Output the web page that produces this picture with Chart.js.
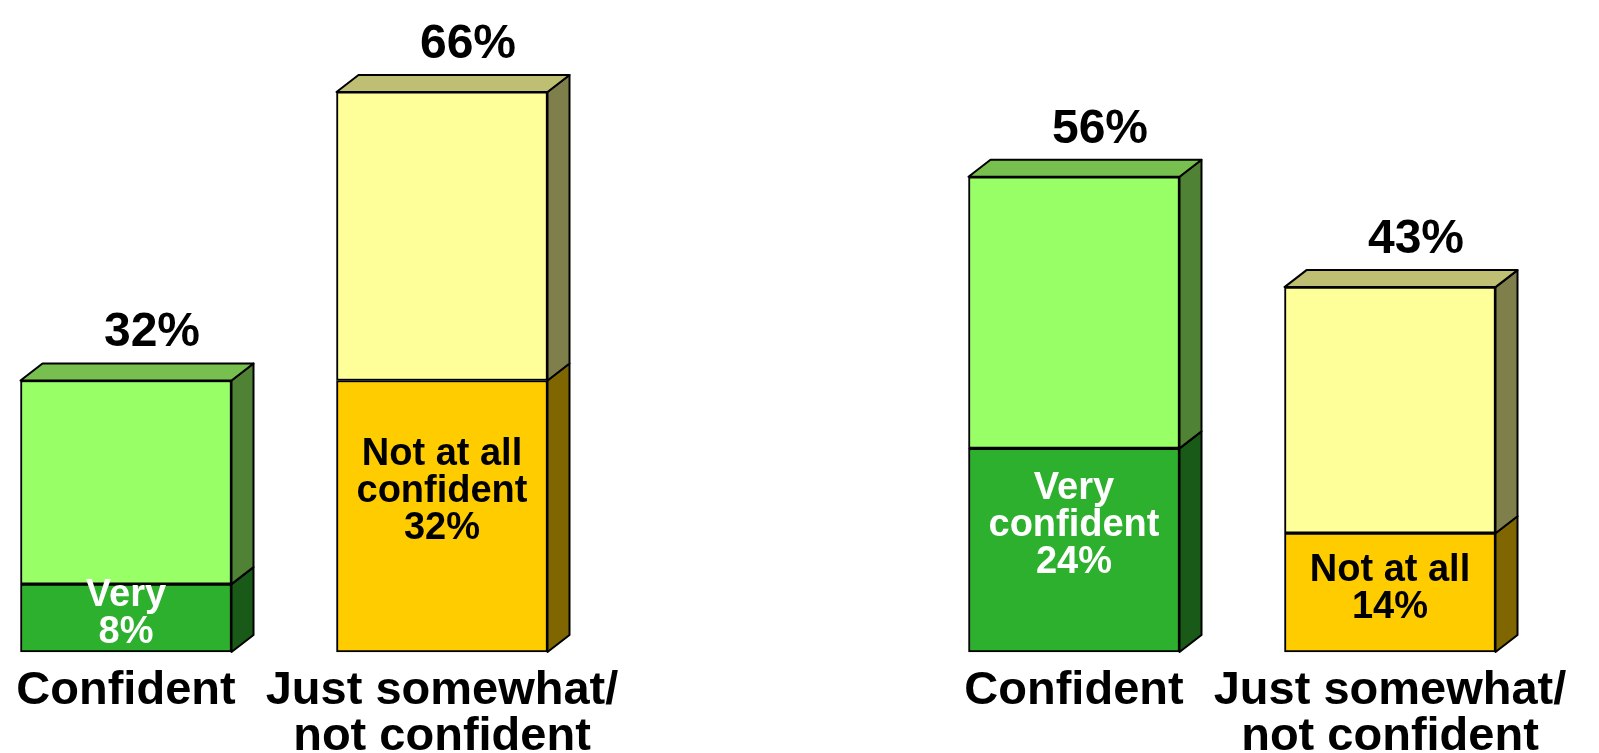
<!DOCTYPE html>
<html>
<head>
<meta charset="utf-8">
<script src="https://cdn.jsdelivr.net/npm/chart.js@4/dist/chart.umd.min.js"></script>
<style>
  html, body { margin: 0; padding: 0; background: #fff; }
  #wrap { width: 1599px; height: 753px; position: relative; }
</style>
</head>
<body>
<div id="wrap"><canvas id="chart"></canvas></div>
<script>
// ---- data ----
const categories = ["Confident", ["Just somewhat/", "not confident"], "", "Confident", ["Just somewhat/", "not confident"]];
const bottomValues = [8, 32, null, 24, 14];
const topValues = [24, 34, null, 32, 29];
const totalLabels = ["32%", "66%", "", "56%", "43%"];
const innerLabels = [["Very", "8%"], ["Not at all", "confident", "32%"], null, ["Very", "confident", "24%"], ["Not at all", "14%"]];

// ---- colours ----
const bottomFront = ["#2db02d", "#ffcc00", null, "#2db02d", "#ffcc00"];
const bottomSide = ["#1a5a18", "#7f6600", null, "#1a5a18", "#7f6600"];
const topFront = ["#99ff66", "#ffff99", null, "#99ff66", "#ffff99"];
const topSide = ["#4f8235", "#7f7f4c", null, "#4f8235", "#7f7f4c"];
const topLid = ["#77c04f", "#bfbf73", null, "#77c04f", "#bfbf73"];
const innerColor = ["#ffffff", "#000000", null, "#ffffff", "#000000"];

const DX = 22, DY = 17;
const FONT = "'Liberation Sans', Arial, sans-serif";

// draws the side / top faces and the labels
const cubePlugin = {
  id: "cube",
  afterDatasetsDraw(chart) {
    const ctx = chart.ctx;
    ctx.save();
    ctx.lineWidth = 2;
    ctx.strokeStyle = "#000";
    ctx.lineJoin = "round";

    chart.data.datasets.forEach((ds, di) => {
      const meta = chart.getDatasetMeta(di);
      meta.data.forEach((bar, i) => {
        if (ds.data[i] == null) return;
        const p = bar.getProps(["x", "y", "base", "width"], true);
        const l = p.x - p.width / 2, r = p.x + p.width / 2;
        const t = Math.min(p.y, p.base), b = Math.max(p.y, p.base);

        // side face
        ctx.beginPath();
        ctx.moveTo(r, t);
        ctx.lineTo(r + DX, t - DY);
        ctx.lineTo(r + DX, b - DY);
        ctx.lineTo(r, b);
        ctx.closePath();
        ctx.fillStyle = ds.sideColor[i];
        ctx.fill();
        ctx.stroke();

        // lid on the top segment
        if (di === chart.data.datasets.length - 1) {
          ctx.beginPath();
          ctx.moveTo(l, t);
          ctx.lineTo(l + DX, t - DY);
          ctx.lineTo(r + DX, t - DY);
          ctx.lineTo(r, t);
          ctx.closePath();
          ctx.fillStyle = topLid[i];
          ctx.fill();
          ctx.stroke();

          ctx.fillStyle = "#000";
          ctx.font = "bold 48px " + FONT;
          ctx.textAlign = "center";
          ctx.textBaseline = "alphabetic";
          ctx.fillText(totalLabels[i], p.x + 26, t - 34);
        }

        // text inside the bottom segment
        if (di === 0 && innerLabels[i]) {
          const lines = innerLabels[i];
          const lh = 37;
          ctx.fillStyle = innerColor[i];
          ctx.font = "bold 38px " + FONT;
          ctx.textAlign = "center";
          ctx.textBaseline = "middle";
          const shift = lines.length > 2 ? -25 : -4;
          const mid = (t + b) / 2 + shift;
          lines.forEach((s, k) => {
            ctx.fillText(s, p.x, mid + (k - (lines.length - 1) / 2) * lh);
          });
        }
      });
    });
    ctx.restore();
  }
};

new Chart(document.getElementById("chart"), {
  type: "bar",
  data: {
    labels: categories,
    datasets: [
      {
        label: "bottom",
        data: bottomValues,
        backgroundColor: bottomFront,
        sideColor: bottomSide,
        borderColor: "#000",
        borderWidth: 2,
        borderSkipped: false,
        barThickness: 211,
        clip: false
      },
      {
        label: "top",
        data: topValues,
        backgroundColor: topFront,
        sideColor: topSide,
        borderColor: "#000",
        borderWidth: 2,
        borderSkipped: false,
        barThickness: 211,
        clip: false
      }
    ]
  },
  options: {
    responsive: true,
    maintainAspectRatio: false,
    animation: false,
    layout: { padding: { left: 126, right: 209, top: 58, bottom: 0 } },
    plugins: {
      legend: { display: false },
      tooltip: { enabled: false }
    },
    scales: {
      x: {
        stacked: true,
        offset: false,
        grid: { display: false, drawTicks: false },
        border: { display: false },
        ticks: {
          color: "#000",
          font: { family: FONT, size: 47, weight: "bold", lineHeight: 0.98 },
          maxRotation: 0,
          minRotation: 0,
          autoSkip: false,
          padding: 16
        },
        afterFit(scale) { scale.height = 101; }
      },
      y: {
        stacked: true,
        display: false,
        min: 0,
        max: 70
      }
    }
  },
  plugins: [cubePlugin]
});
</script>
</body>
</html>
